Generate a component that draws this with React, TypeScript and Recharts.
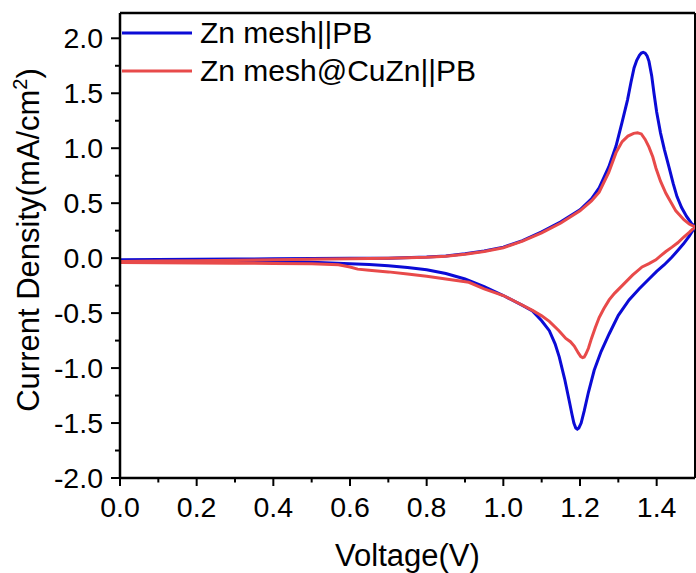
import React from 'react';
import { LineChart, Line, XAxis, YAxis, ReferenceLine, Legend, Label } from 'recharts';

// Cyclic voltammograms: each loop runs anodic sweep (0 → 1.5 V) then cathodic sweep back.
const meshVoltage = [
  0.0, 0.1, 0.2, 0.3, 0.4, 0.5, 0.6, 0.7, 0.8, 0.85, 0.9, 0.95, 1.0, 1.05, 1.1, 1.15, 1.2, 1.23, 1.25,
  1.275, 1.294, 1.31, 1.324, 1.333, 1.341, 1.348, 1.355, 1.36, 1.365, 1.37, 1.375, 1.38, 1.387, 1.393,
  1.4, 1.41, 1.42, 1.432, 1.443, 1.453, 1.465, 1.478, 1.49, 1.5,
  1.485, 1.47, 1.455, 1.44, 1.42, 1.4, 1.38, 1.354, 1.328, 1.3, 1.276, 1.255, 1.237, 1.222, 1.211,
  1.203, 1.197, 1.193, 1.189, 1.184, 1.179, 1.172, 1.16, 1.146, 1.135, 1.12, 1.1, 1.076, 1.05, 1.0,
  0.95, 0.9, 0.85, 0.8, 0.75, 0.7, 0.65, 0.6, 0.5, 0.4, 0.3, 0.2, 0.1, 0.0,
];
const meshCurrent = [
  -0.015, -0.012, -0.01, -0.008, -0.006, -0.004, -0.002, 0.0, 0.01, 0.02, 0.04, 0.065, 0.1, 0.16, 0.24,
  0.33, 0.44, 0.54, 0.64, 0.83, 1.02, 1.24, 1.44, 1.6, 1.73, 1.8, 1.845, 1.865, 1.872, 1.865, 1.84,
  1.79, 1.66, 1.5, 1.33, 1.14, 0.99, 0.83, 0.68, 0.56, 0.46, 0.38, 0.32, 0.285,
  0.2, 0.13, 0.07, 0.01, -0.06, -0.12, -0.19, -0.28, -0.38, -0.52, -0.69, -0.85, -1.02, -1.22, -1.39,
  -1.5, -1.545, -1.555, -1.545, -1.5, -1.42, -1.3, -1.1, -0.9, -0.78, -0.66, -0.57, -0.48, -0.43,
  -0.34, -0.26, -0.19, -0.14, -0.105, -0.085, -0.07, -0.058, -0.05, -0.038, -0.032, -0.03, -0.027,
  -0.025, -0.025,
];

const cuZnVoltage = [
  0.0, 0.1, 0.2, 0.3, 0.4, 0.5, 0.6, 0.7, 0.8, 0.85, 0.9, 0.95, 1.0, 1.05, 1.1, 1.15, 1.2, 1.23, 1.25,
  1.275, 1.294, 1.31, 1.325, 1.34, 1.35, 1.36, 1.37, 1.38, 1.39, 1.398, 1.41, 1.424, 1.432, 1.45,
  1.471, 1.485, 1.5,
  1.485, 1.47, 1.455, 1.44, 1.424, 1.41, 1.398, 1.38, 1.362, 1.337, 1.31, 1.29, 1.276, 1.262, 1.25,
  1.24, 1.23, 1.222, 1.215, 1.211, 1.207, 1.202, 1.196, 1.185, 1.175, 1.163, 1.145, 1.12, 1.1, 1.076,
  1.04, 1.0, 0.95, 0.91, 0.85, 0.8, 0.75, 0.7, 0.65, 0.62, 0.6, 0.57, 0.5, 0.4, 0.3, 0.2, 0.1, 0.0,
];
const cuZnCurrent = [
  -0.03, -0.027, -0.024, -0.02, -0.015, -0.01, -0.005, 0.0, 0.008, 0.018, 0.035, 0.06, 0.095, 0.155,
  0.23, 0.32, 0.43, 0.52, 0.6, 0.78, 0.96, 1.06, 1.11, 1.135, 1.14, 1.13, 1.08, 1.01, 0.92, 0.82, 0.7,
  0.59, 0.54, 0.43, 0.35, 0.31, 0.285,
  0.235, 0.19, 0.14, 0.1, 0.06, 0.02, -0.015, -0.05, -0.08, -0.155, -0.25, -0.32, -0.38, -0.46, -0.54,
  -0.63, -0.73, -0.82, -0.875, -0.9, -0.905, -0.895, -0.865, -0.8, -0.76, -0.73, -0.66, -0.575, -0.525,
  -0.475, -0.41, -0.34, -0.28, -0.22, -0.19, -0.165, -0.145, -0.125, -0.11, -0.1, -0.08, -0.06, -0.052,
  -0.048, -0.046, -0.044, -0.042, -0.04,
];

const seriesNames = ['Zn mesh||PB', 'Zn mesh@CuZn||PB'];
const seriesColors = ['#0b0bd6', '#e84a4a'];

const xTicks = [0, 0.1, 0.2, 0.3, 0.4, 0.5, 0.6, 0.7, 0.8, 0.9, 1.0, 1.1, 1.2, 1.3, 1.4];
const yTicks = [
  -2, -1.75, -1.5, -1.25, -1, -0.75, -0.5, -0.25, 0, 0.25, 0.5, 0.75, 1, 1.25, 1.5, 1.75, 2,
];
const xDomain = [0, 1.5];
const yDomain = [-2, 2.23];

const FONT = '"Liberation Sans", Arial, sans-serif';

const toPoints = (vs: number[], cs: number[]) => vs.map((v, i) => ({ v, c: cs[i] }));
const meshData = toPoints(meshVoltage, meshCurrent);
const cuZnData = toPoints(cuZnVoltage, cuZnCurrent);

const isMultiple = (value: number, step: number) =>
  Math.abs(value / step - Math.round(value / step)) < 1e-6;

const XTick = (props: any) => {
  const { x, y, payload } = props;
  const major = isMultiple(payload.value, 0.2);
  return (
    <g>
      <line x1={x} x2={x} y1={y} y2={y + (major ? 8 : 4.5)} stroke="#000" strokeWidth={2} />
      {major && (
        <text x={x} y={y + 19} dy="0.71em" textAnchor="middle" fontSize={28.5} fontFamily={FONT} fill="#000">
          {Number(payload.value).toFixed(1)}
        </text>
      )}
    </g>
  );
};

const YTick = (props: any) => {
  const { x, y, payload } = props;
  const major = isMultiple(payload.value, 0.5);
  return (
    <g>
      <line x1={x} x2={x - (major ? 9 : 5)} y1={y} y2={y} stroke="#000" strokeWidth={2} />
      {major && (
        <text x={x - 17} y={y} dy="0.355em" textAnchor="end" fontSize={28.5} fontFamily={FONT} fill="#000">
          {Number(payload.value).toFixed(1)}
        </text>
      )}
    </g>
  );
};

const XTitle = (props: any) => {
  const { viewBox } = props;
  const cx = viewBox.x + viewBox.width / 2;
  return (
    <text x={cx} y={566} textAnchor="middle" fontSize={31} fontFamily={FONT} fill="#000">
      Voltage(V)
    </text>
  );
};

const YTitle = () => {
  const cx = 39;
  const cy = 240;
  return (
    <text
      x={cx}
      y={cy}
      textAnchor="middle"
      fontSize={31}
      fontFamily={FONT}
      fill="#000"
      transform={`rotate(-90, ${cx}, ${cy})`}
    >
      Current Density(mA/cm
      <tspan dy={-12} fontSize={20}>2</tspan>
      <tspan dy={12}>)</tspan>
    </text>
  );
};

// Keep legend rows in series order rather than the legend's default sort.
const LegendContent = (props: any) => {
  const items = [...(props.payload || [])].sort(
    (a: any, b: any) => seriesNames.indexOf(a.value) - seriesNames.indexOf(b.value),
  );
  return (
    <div style={{ display: 'flex', flexDirection: 'column' }}>
      {items.map((item: any) => (
        <div key={item.value} style={{ display: 'flex', alignItems: 'center', height: 38 }}>
          <svg width={70} height={6} style={{ display: 'block' }}>
            <line x1={0} x2={70} y1={3} y2={3} stroke={item.color} strokeWidth={3} />
          </svg>
          <span
            style={{
              marginLeft: 8,
              fontSize: 30,
              fontFamily: FONT,
              color: '#000',
              lineHeight: '38px',
              whiteSpace: 'nowrap',
            }}
          >
            {item.value}
          </span>
        </div>
      ))}
    </div>
  );
};

export default function App() {
  return (
    <div style={{ position: 'absolute', left: 0, top: 0, background: '#fff' }}>
      <LineChart width={696} height={573} margin={{ top: 13, right: 1, bottom: 0, left: 0 }}>
        <XAxis
          type="number"
          dataKey="v"
          domain={xDomain}
          ticks={xTicks}
          interval={0}
          allowDataOverflow
          height={95}
          tickSize={0}
          tickMargin={0}
          tickLine={false}
          tick={<XTick />}
          axisLine={{ stroke: '#000', strokeWidth: 2.5 }}
        >
          <Label content={<XTitle />} />
        </XAxis>
        <YAxis
          type="number"
          dataKey="c"
          domain={yDomain}
          ticks={yTicks}
          interval={0}
          allowDataOverflow
          width={120}
          tickSize={0}
          tickMargin={0}
          tickLine={false}
          tick={<YTick />}
          axisLine={{ stroke: '#000', strokeWidth: 2.5 }}
        >
          <Label content={<YTitle />} />
        </YAxis>
        <ReferenceLine y={yDomain[1]} stroke="#000" strokeWidth={2.5} />
        <ReferenceLine x={xDomain[1]} stroke="#000" strokeWidth={2} />
        <Legend
          layout="vertical"
          align="center"
          verticalAlign="middle"
          wrapperStyle={{ left: 122, top: 14, width: 'auto' }}
          content={<LegendContent />}
        />
        <Line
          data={meshData}
          dataKey="c"
          name={seriesNames[0]}
          type="linear"
          stroke={seriesColors[0]}
          strokeWidth={3}
          dot={false}
          activeDot={false}
          isAnimationActive={false}
        />
        <Line
          data={cuZnData}
          dataKey="c"
          name={seriesNames[1]}
          type="linear"
          stroke={seriesColors[1]}
          strokeWidth={3}
          dot={false}
          activeDot={false}
          isAnimationActive={false}
        />
      </LineChart>
    </div>
  );
}
